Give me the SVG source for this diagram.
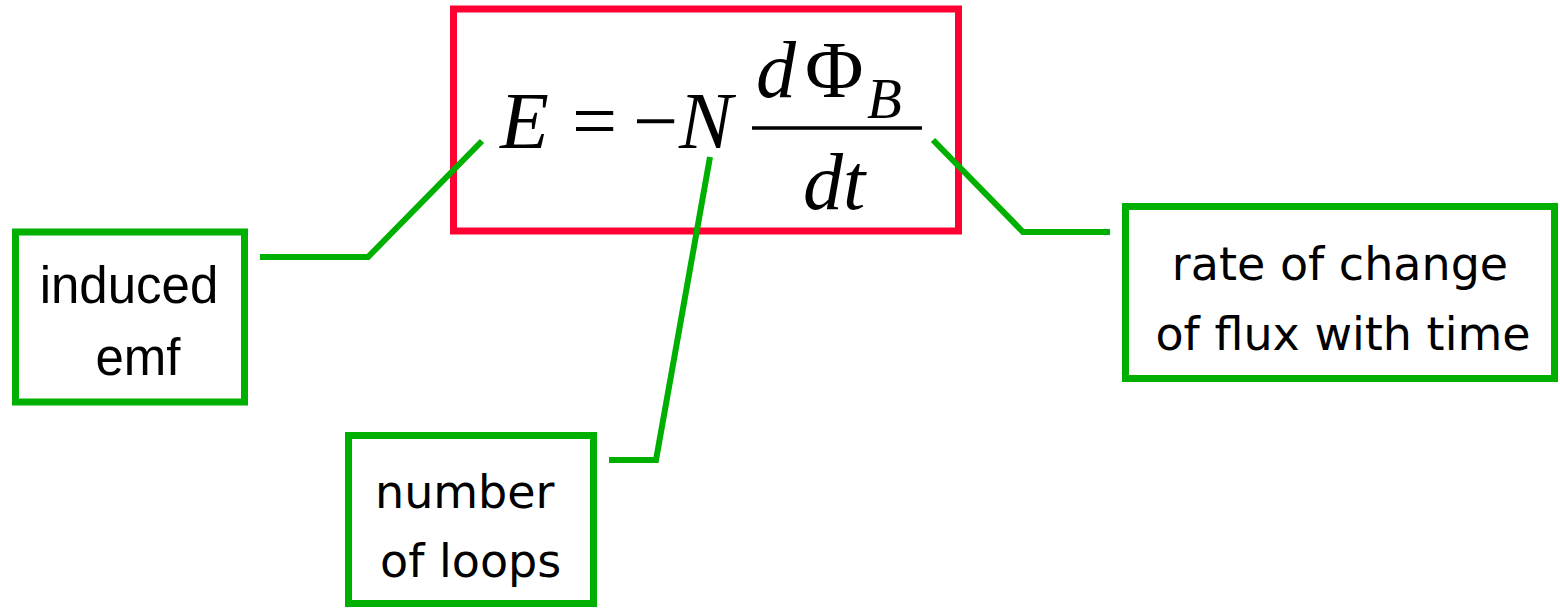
<svg xmlns="http://www.w3.org/2000/svg" width="1560" height="608" viewBox="0 0 1560 608">
<style>
.box{fill:#fff;stroke:#00b000;stroke-width:7}
.conn{fill:none;stroke:#00b000;stroke-width:6;stroke-linejoin:miter}
.m{font-family:"Liberation Serif","Times New Roman",serif;fill:#000}
.i{font-style:italic}
.lbl{font-family:"DejaVu Sans",sans-serif;font-size:46px;fill:#000}
.lbl2{font-family:"Liberation Sans",Arial,sans-serif;font-size:51px;fill:#000}
</style>
<rect width="1560" height="608" fill="#fff"/>
<g id="equation">
<rect x="453.5" y="9" width="505" height="222" fill="#fff" stroke="#ff0033" stroke-width="7"/>
<text class="m i" x="500" y="148" font-size="80">E</text>
<text class="m" x="572" y="148" font-size="80">=</text>
<text class="m" x="633" y="148" font-size="80">−</text>
<text class="m i" x="679" y="148" font-size="80">N</text>
<text class="m i" x="756" y="97" font-size="80">d</text>
<text class="m" x="805" y="97" font-size="80">Φ</text>
<text class="m i" x="867" y="118" font-size="57">B</text>
<line x1="752" y1="128" x2="922" y2="128" stroke="#000" stroke-width="3.5"/>
<text class="m i" x="803" y="209" font-size="80">dt</text>
</g>
<g id="connectors">
<polyline class="conn" points="260,257 368,257 482,141"/>
<polyline class="conn" points="609,460 656,460 710,157"/>
<polyline class="conn" points="933,140 1023,232 1110,232"/>
</g>
<g id="induced-emf">
<rect class="box" x="15.5" y="232" width="229" height="170"/>
<text class="lbl2" x="129" y="303" text-anchor="middle">induced</text>
<text class="lbl2" x="138" y="375" text-anchor="middle">emf</text>
</g>
<g id="number-of-loops">
<rect class="box" x="348.5" y="435.5" width="245" height="168"/>
<text class="lbl" x="375" y="508">number</text>
<text class="lbl" x="380" y="577">of loops</text>
</g>
<g id="rate-of-change">
<rect class="box" x="1125.5" y="206.5" width="429" height="172"/>
<text class="lbl" x="1340" y="280" text-anchor="middle">rate of change</text>
<text class="lbl" x="1343" y="350" text-anchor="middle">of flux with time</text>
</g>
</svg>
